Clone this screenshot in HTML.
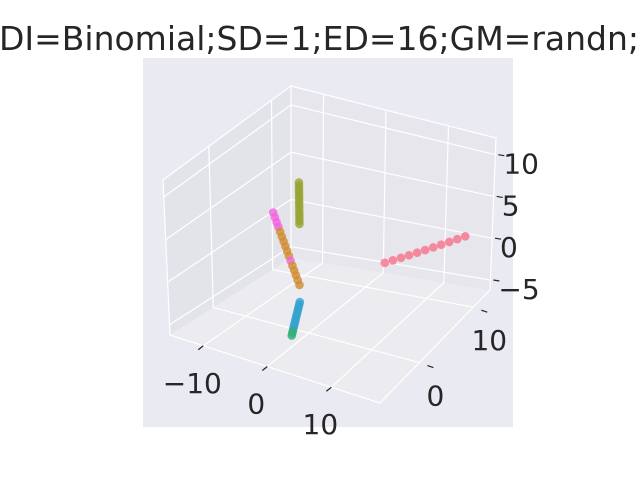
<!DOCTYPE html>
<html><head><meta charset="utf-8">
<style>
html,body{margin:0;padding:0;background:#fff;}
svg{display:block;font-family:"DejaVu Sans","Liberation Sans",sans-serif;}
</style></head>
<body>
<svg id="chart" width="640" height="480" viewBox="0 0 640 480" xmlns="http://www.w3.org/2000/svg">
<rect x="0" y="0" width="640" height="480" fill="#ffffff"/>
<rect x="143" y="58" width="370" height="369" fill="#eaeaf2"/>
<text x="319" y="50" font-size="33" text-anchor="middle" fill="#262626">DI=Binomial;SD=1;ED=16;GM=randn;</text>
<g id="panes"></g>
<g id="grid"></g>
<g id="ticks"></g>
<g id="points"></g>
</svg>
<script>
const xTicks = [-10, 0, 10];
const yTicks = [0, 10];
const zTicks = [-5, 0, 5, 10];
const xTickLabels = ["\u221210", "0", "10"];
const yTickLabels = ["0", "10"];
const zTickLabels = ["\u22125", "0", "5", "10"];
const xRange = [-15.2, 17.6];
const yRange = [-7.3, 13.1];
const zRange = [-6.2, 12];
// clusters: start and end points in data space, point count, color
const clusterNames = ["pink", "olive", "magenta-orange", "blue-green"];
const clusterStart = [[7.7, 4.9, 0.5], [-2.1, 0.9, 5.3], [-6.5, 1.2, 5.6], [-0.9, -0.5, -2.6]];
const clusterEnd = [[14.3, 11.9, 0.5], [-2.1, 0.9, 10], [0.2, -1.7, 0.2], [-0.2, -2.75, -5.1]];
const clusterCounts = [11, 14, 16, 16];
const clusterColors = ["#f77189", "#97a431", "#d08c32", "#36a3d0"];

const NS = "http://www.w3.org/2000/svg";
const C = {
  "000": [170, 335], "100": [380, 403], "110": [490, 290], "010": [291, 258],
  "001": [163, 180], "101": [378, 240], "111": [496, 138], "011": [291, 86]
};
function P(x, y, z) {
  const fx = (x - xRange[0]) / (xRange[1] - xRange[0]);
  const fy = (y - yRange[0]) / (yRange[1] - yRange[0]);
  const fz = (z - zRange[0]) / (zRange[1] - zRange[0]);
  const out = [0, 0];
  for (let k = 0; k < 2; k++) {
    let s = 0;
    for (const key in C) {
      const a = +key[0], b = +key[1], c = +key[2];
      const w = (a ? fx : 1 - fx) * (b ? fy : 1 - fy) * (c ? fz : 1 - fz);
      s += w * C[key][k];
    }
    out[k] = s;
  }
  return out;
}
function mk(tag, attrs, parent) {
  const e = document.createElementNS(NS, tag);
  for (const k in attrs) e.setAttribute(k, attrs[k]);
  parent.appendChild(e);
  return e;
}
const [x0, x1] = xRange, [y0, y1] = yRange, [z0, z1] = zRange;
const panes = document.getElementById('panes');
function poly(pts, fill, name) {
  const e = mk('polygon', {points: pts.map(p => p.join(',')).join(' '), fill: fill}, panes);
  
  
}
poly([P(x0,y0,z0), P(x0,y1,z0), P(x0,y1,z1), P(x0,y0,z1)], '#e3e3ea', 'left-pane');
poly([P(x0,y1,z0), P(x1,y1,z0), P(x1,y1,z1), P(x0,y1,z1)], '#e6e6ec', 'back-pane');
poly([P(x0,y0,z0), P(x1,y0,z0), P(x1,y1,z0), P(x0,y1,z0)], '#ebebf0', 'floor-pane');

const grid = document.getElementById('grid');
function line(a, b, parent, stroke, w, name) {
  const e = mk('line', {x1: a[0], y1: a[1], x2: b[0], y2: b[1], stroke: stroke, 'stroke-width': w}, parent);
  
  
  return e;
}
xTicks.forEach(v => {
  line(P(v,y0,z0), P(v,y1,z0), grid, '#fff', 1.2, 'x-grid-floor');
  line(P(v,y1,z0), P(v,y1,z1), grid, '#fff', 1.2, 'x-grid-back');
});
yTicks.forEach(v => {
  line(P(x1,v,z0), P(x0,v,z0), grid, '#fff', 1.2, 'y-grid-floor');
  line(P(x0,v,z0), P(x0,v,z1), grid, '#fff', 1.2, 'y-grid-left');
});
zTicks.forEach(v => {
  line(P(x0,y0,v), P(x0,y1,v), grid, '#fff', 1.2, 'z-grid-left');
  line(P(x0,y1,v), P(x1,y1,v), grid, '#fff', 1.2, 'z-grid-back');
});
[[P(x0,y0,z0),P(x1,y0,z0)],[P(x1,y0,z0),P(x1,y1,z0)],[P(x0,y0,z0),P(x0,y0,z1)],[P(x1,y1,z0),P(x1,y1,z1)],[P(x0,y1,z1),P(x1,y1,z1)],[P(x0,y0,z1),P(x0,y1,z1)],[P(x0,y1,z0),P(x0,y1,z1)]].forEach(s => line(s[0], s[1], grid, '#fff', 1.2, 'pane-edge'));

const ticks = document.getElementById('ticks');
function label(p, txt, name) {
  const t = mk('text', {x: p[0], y: p[1] + 10, 'font-size': 28, 'text-anchor': 'middle', fill: '#262626'}, ticks);
  t.textContent = txt;
  
  
}
xTicks.forEach((v, i) => {
  const a = P(v, y0, z0);
  const d = [a[0] - 5, a[1] + 4];
  line(a, d, ticks, '#262626', 1.2, 'x-tick');
  label([a[0] - 11, a[1] + 37], xTickLabels[i], 'x-tick-label');
});
yTicks.forEach((v, i) => {
  const a = P(x1, v, z0);
  line([a[0] + 8, a[1] + 3], [a[0] + 14, a[1] + 5], ticks, '#262626', 1.2, 'y-tick');
  label([a[0] + 16, a[1] + 33], yTickLabels[i], 'y-tick-label');
});
zTicks.forEach((v, i) => {
  const a = P(x1, y1, v);
  line([a[0] + 3, a[1]], [a[0] + 9, a[1] + 1], ticks, '#262626', 1.2, 'z-tick');
  const t = mk('text', {x: a[0] + 8, y: a[1] + 19, 'font-size': 28, 'text-anchor': 'start', fill: '#262626'}, ticks);
  t.textContent = zTickLabels[i];
  
  
});

const pts = document.getElementById('points');
clusterNames.forEach((n, ci) => {
  const s = clusterStart[ci], e = clusterEnd[ci], cnt = clusterCounts[ci];
  for (let i = 0; i < cnt; i++) {
    const f = cnt > 1 ? i / (cnt - 1) : 0;
    const p = P(s[0] + (e[0] - s[0]) * f, s[1] + (e[1] - s[1]) * f, s[2] + (e[2] - s[2]) * f);
    let col = clusterColors[ci];
    if (ci === 2 && (i < 4 || i === 10)) col = '#f461dd';
    if (ci === 3 && i > 12) col = '#33b07a';
    const c = mk('circle', {cx: p[0], cy: p[1], r: 4.3, fill: col, 'fill-opacity': 0.8}, pts);
    
    
  }
});
</script>
</body></html>
